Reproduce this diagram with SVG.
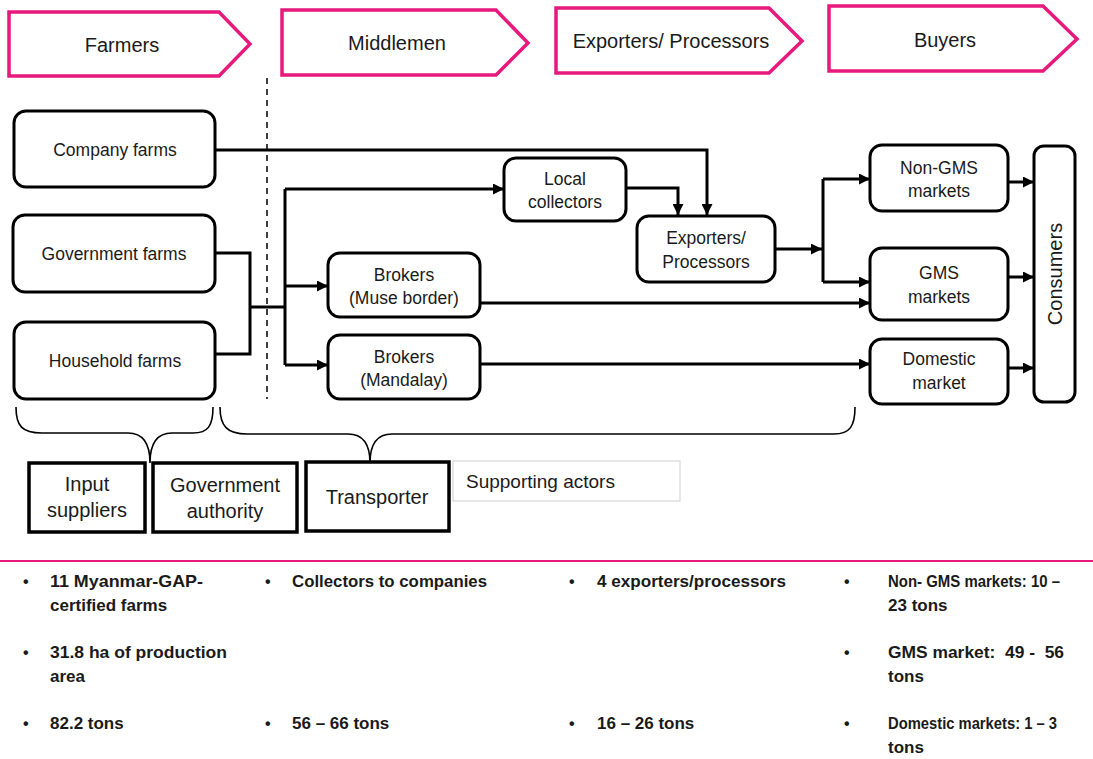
<svg xmlns="http://www.w3.org/2000/svg" width="1093" height="759" viewBox="0 0 1093 759">
<defs>
<marker id="arr" markerUnits="userSpaceOnUse" markerWidth="11" markerHeight="11" refX="11" refY="5.5" orient="auto">
<path d="M0,0 L11,5.5 L0,11 Z" fill="#000"/>
</marker>
<style>
.hdr{fill:#fff;stroke:#E8197C;stroke-width:3.5}
.ht{font-family:"Liberation Sans",Arial,sans-serif;font-size:20px;fill:#1a1a1a;text-anchor:middle}
.nb{fill:#fff;stroke:#000;stroke-width:3}
.nt{font-family:"Liberation Sans",Arial,sans-serif;font-size:17.5px;fill:#1a1a1a;text-anchor:middle}
.sb{fill:#fff;stroke:#000;stroke-width:3.5}
.st{font-family:"Liberation Sans",Arial,sans-serif;font-size:20px;fill:#1a1a1a;text-anchor:middle}
.c{fill:none;stroke:#000;stroke-width:3}
.ca{fill:none;stroke:#000;stroke-width:3;marker-end:url(#arr)}
.br{fill:none;stroke:#000;stroke-width:1.6}
.bt{font-family:"Liberation Sans",Arial,sans-serif;font-size:17px;font-weight:bold;fill:#1a1a1a}
.bu{font-family:"Liberation Sans",Arial,sans-serif;font-size:16px;font-weight:bold;fill:#1a1a1a}
</style>
</defs>
<rect width="1093" height="759" fill="#fff"/>

<g id="header-farmers"><path class="hdr" d="M9,12 H219 L250,44 L219,76 H9 Z"/><text class="ht" x="122" y="52">Farmers</text></g>
<g id="header-middlemen"><path class="hdr" d="M282,10 H496 L528,43 L496,75 H282 Z"/><text class="ht" x="397" y="50">Middlemen</text></g>
<g id="header-exporters"><path class="hdr" d="M556,8 H769 L802,41 L769,73 H556 Z"/><text class="ht" x="671" y="48">Exporters/ Processors</text></g>
<g id="header-buyers"><path class="hdr" d="M829,6 H1043 L1077,39 L1043,71 H829 Z"/><text class="ht" x="945" y="47">Buyers</text></g>

<line x1="267" y1="78" x2="267" y2="399" stroke="#000" stroke-width="1.5" stroke-dasharray="6,5"/>

<g id="connectors">
<path class="ca" d="M215,150 H707 V215"/>
<path class="ca" d="M626,188 H678 V215"/>
<path class="ca" d="M775,249 H822"/>
<path class="c" d="M823,179 V282"/>
<path class="ca" d="M823,179 H870"/>
<path class="ca" d="M823,282 H870"/>
<path class="ca" d="M480,303 H870"/>
<path class="ca" d="M480,364 H870"/>
<path class="ca" d="M1008,182 H1034"/>
<path class="ca" d="M1008,277 H1034"/>
<path class="ca" d="M1008,368 H1034"/>
<path class="c" d="M215,253 H250 V354 H215"/>
<path class="c" d="M250,307 H285"/>
<path class="c" d="M285,189 V365"/>
<path class="ca" d="M285,189 H504"/>
<path class="ca" d="M285,286 H328"/>
<path class="ca" d="M285,365 H328"/>
</g>

<g id="company-farms"><rect class="nb" x="14" y="111" width="201" height="76" rx="12"/><text class="nt" x="115" y="156">Company farms</text></g>
<g id="government-farms"><rect class="nb" x="13" y="215" width="202" height="77" rx="12"/><text class="nt" x="114" y="260">Government farms</text></g>
<g id="household-farms"><rect class="nb" x="14" y="322" width="201" height="77" rx="12"/><text class="nt" x="115" y="367">Household farms</text></g>
<g id="local-collectors"><rect class="nb" x="504" y="158" width="122" height="63" rx="12"/><text class="nt" x="565" y="185">Local</text><text class="nt" x="565" y="208">collectors</text></g>
<g id="exporters-processors"><rect class="nb" x="637" y="216" width="138" height="66" rx="12"/><text class="nt" x="706" y="244">Exporters/</text><text class="nt" x="706" y="268">Processors</text></g>
<g id="brokers-muse"><rect class="nb" x="328" y="253" width="152" height="64" rx="12"/><text class="nt" x="404" y="281">Brokers</text><text class="nt" x="404" y="304">(Muse border)</text></g>
<g id="brokers-mandalay"><rect class="nb" x="328" y="335" width="152" height="64" rx="12"/><text class="nt" x="404" y="363">Brokers</text><text class="nt" x="404" y="386">(Mandalay)</text></g>
<g id="non-gms"><rect class="nb" x="870" y="145" width="138" height="66" rx="12"/><text class="nt" x="939" y="174">Non-GMS</text><text class="nt" x="939" y="197">markets</text></g>
<g id="gms"><rect class="nb" x="870" y="248" width="138" height="72" rx="12"/><text class="nt" x="939" y="279">GMS</text><text class="nt" x="939" y="303">markets</text></g>
<g id="domestic"><rect class="nb" x="870" y="339" width="138" height="65" rx="12"/><text class="nt" x="939" y="365">Domestic</text><text class="nt" x="939" y="389">market</text></g>
<g id="consumers"><rect class="nb" x="1034" y="146" width="41" height="256" rx="10"/><text class="st" transform="translate(1062,274) rotate(-90)" x="0" y="0">Consumers</text></g>

<g id="braces">
<path class="br" d="M16,407 C16,426 22,433 42,433 H128 C142,433 150,442 150,463 C150,442 158,433 172,433 H193 C208,433 213,426 213,407"/>
<path class="br" d="M220,407 C220,426 227,434 247,434 H348 C362,434 370,443 370,463 C370,443 378,434 392,434 H834 C850,434 855,426 855,407"/>
</g>

<g id="input-suppliers"><rect class="sb" x="29" y="463" width="116" height="69"/><text class="st" x="87" y="491">Input</text><text class="st" x="87" y="517">suppliers</text></g>
<g id="government-authority"><rect class="sb" x="153" y="463" width="144" height="69"/><text class="st" x="225" y="492">Government</text><text class="st" x="225" y="518">authority</text></g>
<g id="transporter"><rect class="sb" x="306" y="462" width="143" height="69"/><text class="st" x="377" y="504">Transporter</text></g>
<g id="supporting-actors"><rect x="453" y="461" width="227" height="40" fill="#fff" stroke="#cfcfcf" stroke-width="1"/><text class="st" x="466" y="488" style="text-anchor:start;font-size:19px">Supporting actors</text></g>

<line x1="0" y1="561" x2="1093" y2="561" stroke="#E8197C" stroke-width="2"/>

<g id="notes">
<text class="bu" x="23" y="587">•</text>
<text class="bt" x="50" y="587" textLength="153" lengthAdjust="spacingAndGlyphs">11 Myanmar-GAP-</text>
<text class="bt" x="50" y="611">certified farms</text>
<text class="bu" x="23" y="658">•</text>
<text class="bt" x="50" y="658" textLength="177" lengthAdjust="spacingAndGlyphs">31.8 ha of production</text>
<text class="bt" x="50" y="682">area</text>
<text class="bu" x="23" y="729">•</text>
<text class="bt" x="50" y="729">82.2 tons</text>

<text class="bu" x="265" y="587">•</text>
<text class="bt" x="292" y="587" textLength="195" lengthAdjust="spacingAndGlyphs">Collectors to companies</text>
<text class="bu" x="265" y="729">•</text>
<text class="bt" x="292" y="729">56 – 66 tons</text>

<text class="bu" x="569" y="587">•</text>
<text class="bt" x="597" y="587" textLength="189" lengthAdjust="spacingAndGlyphs">4 exporters/processors</text>
<text class="bu" x="569" y="729">•</text>
<text class="bt" x="597" y="729">16 – 26 tons</text>

<text class="bu" x="844" y="587">•</text>
<text class="bt" x="888" y="587" textLength="172" lengthAdjust="spacingAndGlyphs">Non- GMS markets: 10 –</text>
<text class="bt" x="888" y="611">23 tons</text>
<text class="bu" x="844" y="658">•</text>
<text class="bt" x="888" y="658" xml:space="preserve" textLength="176" lengthAdjust="spacingAndGlyphs">GMS market:  49 -  56</text>
<text class="bt" x="888" y="682">tons</text>
<text class="bu" x="844" y="729">•</text>
<text class="bt" x="888" y="729" textLength="169" lengthAdjust="spacingAndGlyphs">Domestic markets: 1 – 3</text>
<text class="bt" x="888" y="753">tons</text>
</g>
</svg>
